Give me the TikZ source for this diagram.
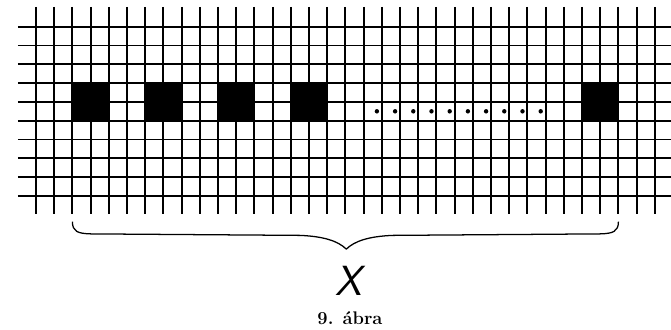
\documentclass[tikz,border=0pt]{standalone}
\usepackage{fontspec}
\usepackage{tikz}
\usetikzlibrary{positioning,calc}
\tikzset{
  vline/.style={line width=1.5pt, draw=black},
  hline/.style={line width=1.3pt, draw=black},
  blockcell/.style={fill=black},
  bracepath/.style={line width=0.9pt, draw=black, line join=round},
  xlabel/.style={font=\fontsize{30}{30}\selectfont\sffamily\itshape, inner sep=0pt},
  caption/.style={font=\fontsize{13}{14}\selectfont\bfseries, inner sep=0pt},
}

\begin{document}
\begin{tikzpicture}[x=0.455cm, y=-0.47cm]
  \useasboundingbox (-1.978,-1.42) rectangle (34.89,16.13);
  % grid: vertical lines
  \foreach \i in {0,...,34}
    \draw[vline] (\i,-1.05) -- (\i,9.96);
  % grid: horizontal lines
  \foreach \j in {0,...,9}
    \draw[hline] (-0.99,\j) -- (34.89,\j);
  % filled 2x2 blocks
  \foreach \i in {2,6,10,14,30}
    \fill[blockcell] (\i,3) rectangle ++(2,2);
  % the dotted run between the blocks
  \foreach \i in {18,...,27}
    \fill (\i+0.73,4.5) circle (0.12);
  % brace under the blocks
  \draw[bracepath] (2,10.37)
    .. controls (2,10.9) and (2.3,11.0) .. (3,11.02)
    -- (14.5,11.1)
    .. controls (15.8,11.15) and (16.6,11.4) .. (17.05,11.83)
    .. controls (17.5,11.4) and (18.3,11.15) .. (19.6,11.1)
    -- (31,11.02)
    .. controls (31.7,11.0) and (32,10.9) .. (32,10.37);
  \coordinate (tip) at (17.05,11.83);
  \node[xlabel] (xname) at (17.2,13.5) {X};
  \node[caption] (fig) at (17.25,15.5) {9. ábra};
\end{tikzpicture}
\end{document}
